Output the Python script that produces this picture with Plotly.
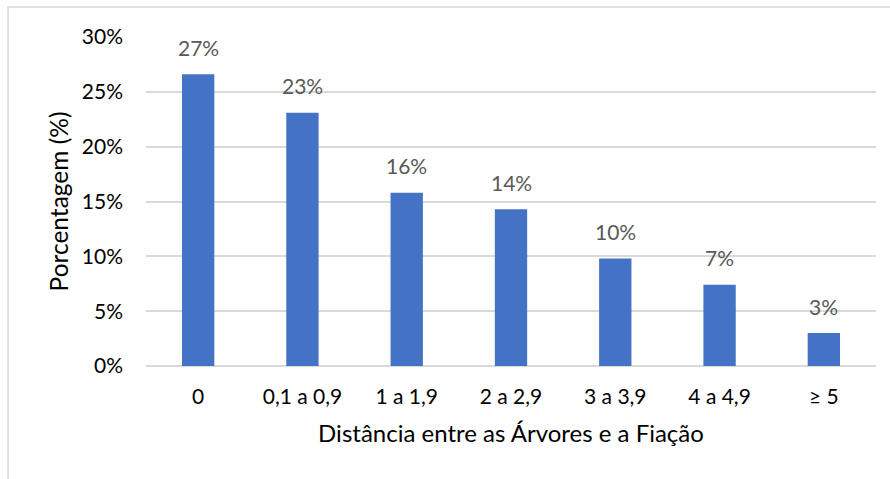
import plotly.graph_objects as go

categories = ["0", "0,1 a 0,9", "1 a 1,9", "2 a 2,9", "3 a 3,9", "4 a 4,9", "≥ 5"]
percentages = [0.266, 0.231, 0.158, 0.143, 0.098, 0.074, 0.030]
y_ticks = [0, 0.05, 0.10, 0.15, 0.20, 0.25, 0.30]

FONT = "Lato"

fig = go.Figure()
fig.add_trace(go.Bar(
    x=categories,
    y=percentages,
    width=0.31,
    marker=dict(color="#4472C4", line=dict(width=0)),
    hoverinfo="skip",
))

# value labels above each bar
for cat, val in zip(categories, percentages):
    fig.add_annotation(
        x=cat, y=val, text=f"{val:.0%}", showarrow=False,
        yanchor="middle", yshift=27,
        font=dict(family=FONT, size=21, color="#595959"),
    )

# outer chart frame
fig.add_shape(
    type="rect", xref="paper", yref="paper",
    x0=-0.189, x1=1.2, y0=-0.6, y1=1.091,
    line=dict(color="#d9d9d9", width=1.5),
    fillcolor="rgba(0,0,0,0)", layer="below",
)

fig.update_layout(
    width=890, height=479,
    margin=dict(l=146, r=14, t=37, b=113),
    paper_bgcolor="white", plot_bgcolor="white",
    showlegend=False,
    font=dict(family=FONT, size=21, color="#000000"),
    xaxis=dict(
        title=dict(text="Distância entre as Árvores e a Fiação",
                   font=dict(family=FONT, size=24, color="#000000"), standoff=18),
        tickfont=dict(family=FONT, size=21, color="#000000"),
        showgrid=False, zeroline=False, showline=False,
        ticks="", ticklabelstandoff=16,
    ),
    yaxis=dict(
        title=dict(text="Porcentagem (%)",
                   font=dict(family=FONT, size=24.5, color="#000000"), standoff=6),
        range=[0, 0.30], tickvals=y_ticks, tickformat=".0%",
        tickfont=dict(family=FONT, size=21, color="#000000"),
        showgrid=True, gridcolor="#d9d9d9", gridwidth=1.5,
        zeroline=True, zerolinecolor="#d9d9d9", zerolinewidth=1.5,
        showline=False, ticks="", ticklabelstandoff=22,
    ),
)

fig.write_html("out.html")
